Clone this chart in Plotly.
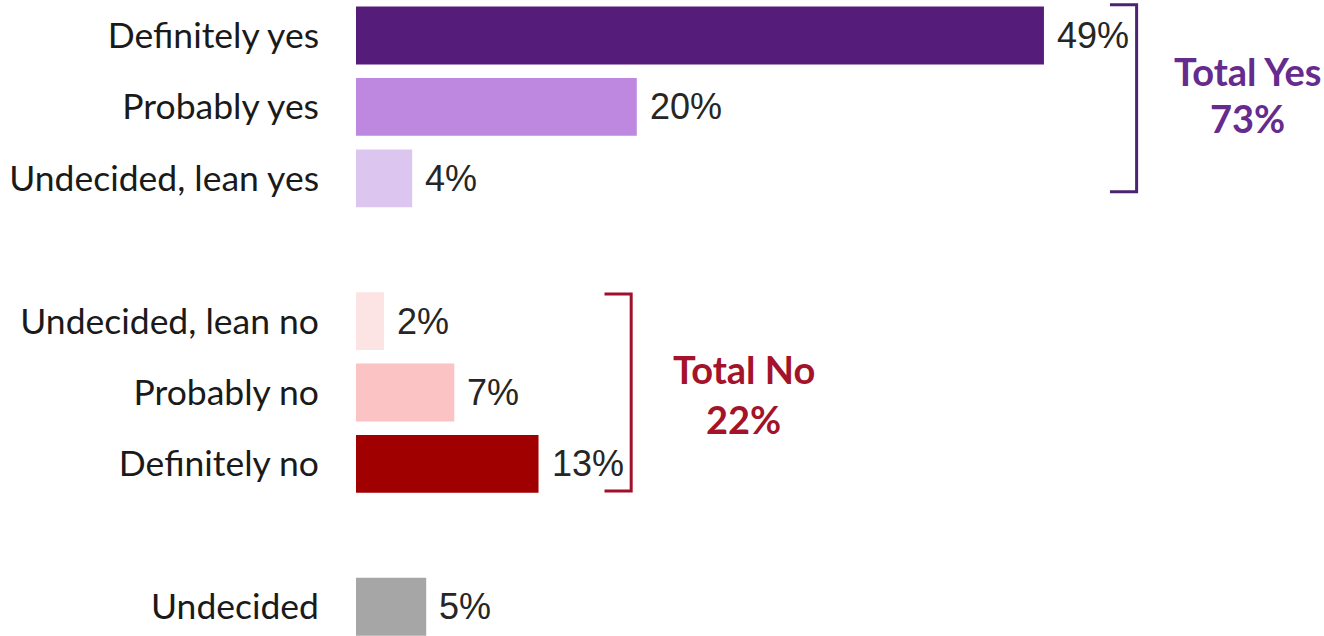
import plotly.graph_objects as go

categories = ["Definitely yes", "Probably yes", "Undecided, lean yes",
              "Undecided, lean no", "Probably no", "Definitely no", "Undecided"]
values = [49, 20, 4, 2, 7, 13, 5]
positions = [0, 1, 2, 4, 5, 6, 8]
colors = ["#561C7A", "#BF88E0", "#DCC6F0", "#FCE4E4", "#FBC3C3", "#A00000", "#A6A6A6"]
yes_idx = [0, 1, 2]
no_idx = [3, 4, 5]

PURPLE = "#652C8E"
RED = "#A3132A"

fig = go.Figure()
fig.add_trace(go.Bar(
    x=values, y=positions, orientation="h",
    marker=dict(color=colors, line=dict(width=0)),
    width=0.81, hoverinfo="skip",
))

for v, p in zip(values, positions):
    fig.add_annotation(x=v, y=p, text=f"{v}%", showarrow=False,
                       xanchor="left", yanchor="middle", xshift=11,
                       font=dict(family="Liberation Sans", size=36, color="#262626"))

def bracket(idx, color, top_off, bot_off):
    xmax = max(values[i] for i in idx)
    xv = xmax + 6.6
    xl = xv - 1.9
    y0 = positions[idx[0]] - top_off
    y1 = positions[idx[-1]] + bot_off
    fig.add_shape(type="path",
                  path=f"M {xl},{y0} L {xv},{y0} L {xv},{y1} L {xl},{y1}",
                  xref="x", yref="y", line=dict(color=color, width=3))

bracket(yes_idx, "#4B2370", 0.43, 0.19)
tot_yes = sum(values[i] for i in yes_idx)
fig.add_annotation(x=63.5, y=0.5, text="<b>Total Yes</b>", showarrow=False,
                   xanchor="center", yanchor="middle",
                   font=dict(family="Lato", size=38, color=PURPLE))
fig.add_annotation(x=63.5, y=1.16, text=f"<b>{tot_yes}%</b>", showarrow=False,
                   xanchor="center", yanchor="middle",
                   font=dict(family="Lato", size=38, color=PURPLE))

bracket(no_idx, "#A0102A", 0.38, 0.38)
tot_no = sum(values[i] for i in no_idx)
fig.add_annotation(x=27.6, y=4.67, text="<b>Total No</b>", showarrow=False,
                   xanchor="center", yanchor="middle",
                   font=dict(family="Lato", size=38, color=RED))
fig.add_annotation(x=27.6, y=5.37, text=f"<b>{tot_no}%</b>", showarrow=False,
                   xanchor="center", yanchor="middle",
                   font=dict(family="Lato", size=38, color=RED))

fig.update_layout(
    width=1324, height=636,
    margin=dict(l=356, r=0, t=0, b=0),
    paper_bgcolor="white", plot_bgcolor="white",
    showlegend=False,
    xaxis=dict(range=[0, (1324 - 356) / 14.04], visible=False, fixedrange=True),
    yaxis=dict(range=[8.41, -0.497], tickvals=positions, ticktext=categories,
               showgrid=False, zeroline=False, showline=False, ticks="",
               ticklabelstandoff=36,
               tickfont=dict(family="Lato", size=35.5, color="#1a1a1a")),
)

fig.write_html("out.html")
